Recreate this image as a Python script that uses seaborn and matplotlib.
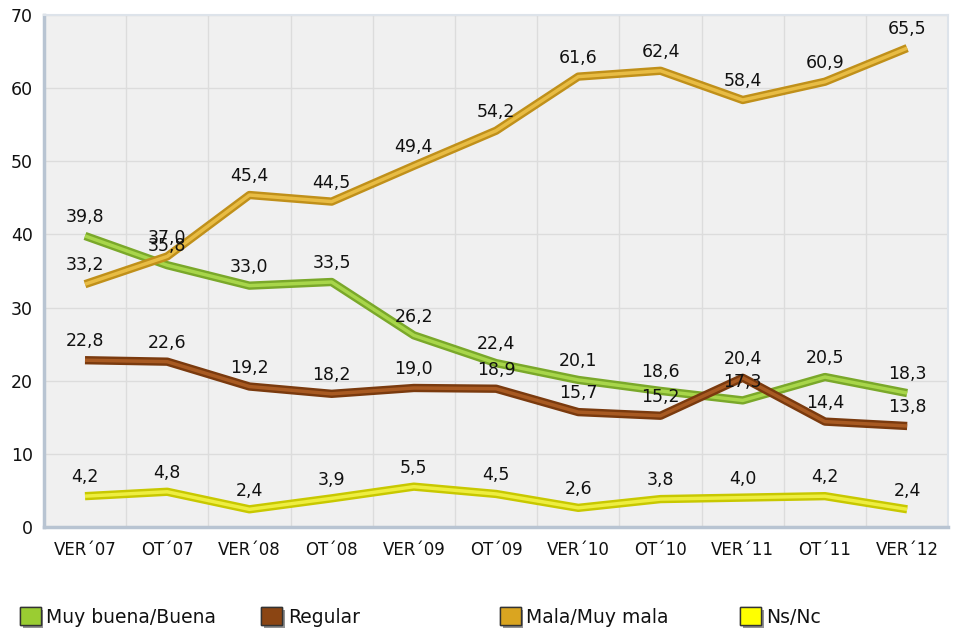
import matplotlib
matplotlib.use("Agg")
import matplotlib.pyplot as plt
import seaborn as sns
import pandas as pd
from matplotlib.patches import Patch
import matplotlib.patheffects as pe

categories = ["VER´07", "OT´07", "VER´08", "OT´08", "VER´09", "OT´09",
              "VER´10", "OT´10", "VER´11", "OT´11", "VER´12"]
muy_buena = [39.8, 35.8, 33.0, 33.5, 26.2, 22.4, 20.1, 18.6, 17.3, 20.5, 18.3]
regular = [22.8, 22.6, 19.2, 18.2, 19.0, 18.9, 15.7, 15.2, 20.4, 14.4, 13.8]
mala = [33.2, 37.0, 45.4, 44.5, 49.4, 54.2, 61.6, 62.4, 58.4, 60.9, 65.5]
nsnc = [4.2, 4.8, 2.4, 3.9, 5.5, 4.5, 2.6, 3.8, 4.0, 4.2, 2.4]

series_names = ["Muy buena/Buena", "Regular", "Mala/Muy mala", "Ns/Nc"]
series_values = [muy_buena, regular, mala, nsnc]
legend_colors = ["#9ACD32", "#8B4513", "#DAA520", "#FFFF00"]
dark_colors = ["#7aa82a", "#7a3a0e", "#c0901a", "#c8c800"]
light_colors = ["#a8d64a", "#a85a22", "#e8bc44", "#eeee40"]

sns.set_theme(style="white")
plt.rcParams["font.family"] = ["DejaVu Sans"]

fig = plt.figure(figsize=(9.54, 6.34), dpi=100)
ax = fig.add_axes([0.046, 0.169, 0.948, 0.807])
ax.set_facecolor("#f0f0f0")

xs = list(range(len(categories)))
order = [3, 1, 0, 2]
for i in order:
    df = pd.DataFrame({"x": xs, "y": series_values[i]})
    sns.lineplot(data=df, x="x", y="y", ax=ax, color=dark_colors[i], linewidth=6,
                 solid_capstyle="butt", zorder=3 + i * 0.1)
    sns.lineplot(data=df, x="x", y="y", ax=ax, color=light_colors[i], linewidth=2.5,
                 solid_capstyle="butt", zorder=3.05 + i * 0.1)

for i in range(4):
    for x, v in zip(xs, series_values[i]):
        ax.annotate(f"{v:.1f}".replace(".", ","), (x, v), xytext=(0, 7),
                    textcoords="offset points", ha="center", va="bottom",
                    fontsize=12.5, color="#111111", zorder=10)

ax.set_xlim(-0.5, 10.5)
ax.set_ylim(0, 70)
ax.set_yticks(range(0, 71, 10))
ax.set_xticks(xs)
ax.set_xticklabels(categories, fontsize=12, color="#111111")
ax.tick_params(axis="y", labelsize=12.5, length=0, pad=8, labelcolor="#111111")
ax.tick_params(axis="x", length=0, pad=10)
ax.set_xticks([x + 0.5 for x in xs[:-1]], minor=True)
ax.grid(True, axis="y", color="#dcdcdc", linewidth=1)
ax.grid(True, axis="x", which="minor", color="#dcdcdc", linewidth=1)
ax.grid(False, axis="x", which="major")
ax.set_axisbelow(True)
ax.set_xlabel("")
ax.set_ylabel("")
for s in ["top", "right"]:
    ax.spines[s].set_color("#dde3ea")
    ax.spines[s].set_linewidth(1.5)
for s in ["left", "bottom"]:
    ax.spines[s].set_color("#b8c4d2")
    ax.spines[s].set_linewidth(2.5)

legend_x = [0.021, 0.274, 0.524, 0.776]
for name, c, lx in zip(series_names, legend_colors, legend_x):
    h = Patch(facecolor=c, edgecolor="#333333", linewidth=1,
              path_effects=[pe.withSimplePatchShadow(offset=(2, -2), shadow_rgbFace="#777777", alpha=0.8), pe.Normal()])
    fig.legend([h], [name], loc="center left", bbox_to_anchor=(lx, 0.027),
               frameon=False, fontsize=13.5, handlelength=1.1, handleheight=1.1,
               handletextpad=0.3, borderpad=0, borderaxespad=0, labelcolor="#111111")

fig.savefig("out.png", dpi=100)
